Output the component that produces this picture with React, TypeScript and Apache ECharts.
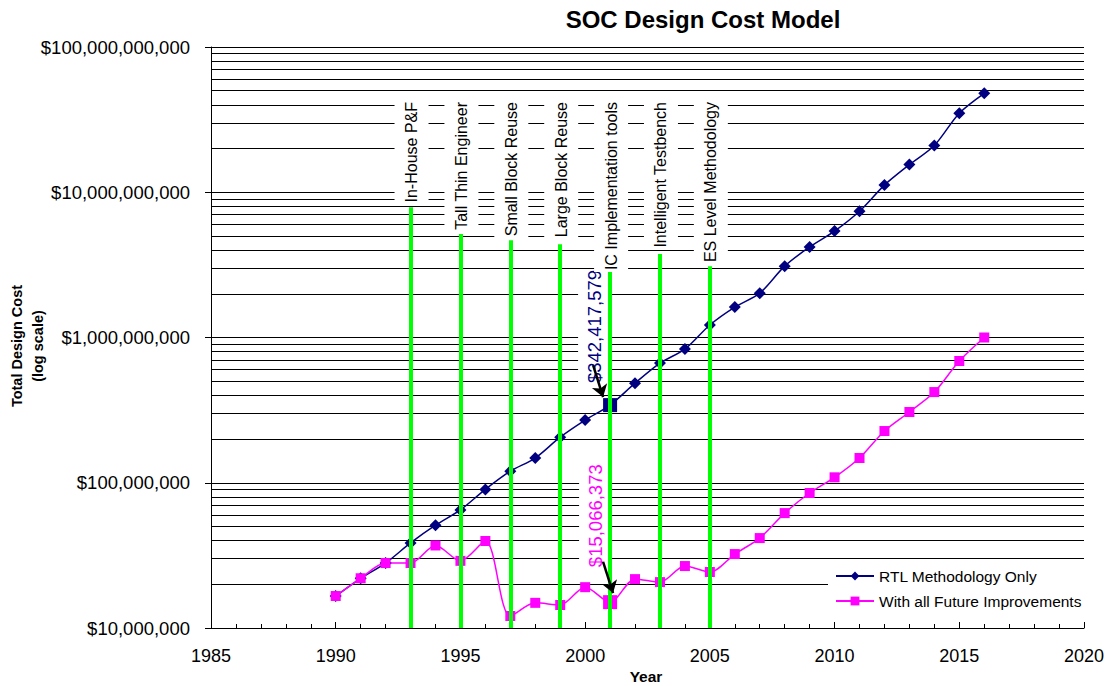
import React, { useEffect, useRef } from "react";
import * as echarts from "echarts";

const FONT = '"Liberation Sans", Arial, Helvetica, sans-serif';

const years = [
  1990, 1991, 1992, 1993, 1994, 1995, 1996, 1997, 1998, 1999, 2000, 2001, 2002,
  2003, 2004, 2005, 2006, 2007, 2008, 2009, 2010, 2011, 2012, 2013, 2014, 2015, 2016,
];

const rtlCost = [
  16.6e6, 22e6, 28e6, 38.5e6, 51e6, 65e6, 90e6, 120e6, 148e6, 206e6, 270e6, 342417579,
  485e6, 667e6, 832e6, 1.22e9, 1.62e9, 2.02e9, 3.1e9, 4.2e9, 5.4e9, 7.4e9, 11.2e9,
  15.5e9, 21e9, 35e9, 48e9,
];

const futureCost = [
  16.6e6, 22e6, 28e6, 28e6, 37e6, 29e6, 39.7e6, 12.1e6, 14.9e6, 14.4e6, 19.1e6, 15066373,
  21.7e6, 20.7e6, 26.7e6, 24.3e6, 32.3e6, 41.6e6, 61.8e6, 85e6, 109e6, 148e6, 227e6,
  307e6, 421e6, 689e6, 1.0e9,
];

const highlightYear = 2001;

const milestoneYears = [1993, 1995, 1997, 1999, 2001, 2003, 2005];
const milestoneTops = [7.89e9, 5.15e9, 4.68e9, 4.39e9, 2.96e9, 3.75e9, 3.1e9];
const milestoneLabels = [
  "In-House P&F",
  "Tall Thin Engineer",
  "Small Block Reuse",
  "Large Block Reuse",
  "IC Implementation tools",
  "Intelligent Testbench",
  "ES Level Methodology",
];

const gridDecades = [1e7, 1e8, 1e9, 1e10];
const gridMultipliers = [2, 3, 4, 5, 6, 7, 8, 9];

const rtlArrow = [
  [2000.32, 6.46e8],
  [2000.72, 3.89e8],
];
const futureArrow = [
  [2000.72, 2.85e7],
  [2001.12, 1.74e7],
];

const seriesNames = ["RTL Methodology Only", "With all Future Improvements"];
const rtlColor = "#000080";
const futureColor = "#FF00FF";

function fmtMoney(v: number) {
  return "$" + Math.round(v).toLocaleString("en-US");
}

export default function App() {
  const ref = useRef<HTMLDivElement>(null);

  useEffect(() => {
    document.body.style.margin = "0";
    const chart = echarts.init(ref.current!, null, { renderer: "svg" });

    const minorGrid: number[] = [];
    gridDecades.forEach((d) => gridMultipliers.forEach((m) => minorGrid.push(d * m)));

    const mkData = (vals: number[], hlColor: string) =>
      years.map((y, i) =>
        y === highlightYear
          ? { value: [y, vals[i]], symbol: "rect", symbolSize: 14, itemStyle: { color: hlColor } }
          : [y, vals[i]]
      );

    const option: any = {
      animation: false,
      textStyle: { fontFamily: FONT },
      grid: { left: 211, right: 26, top: 47, bottom: 58, containLabel: false },
      legend: {
        data: seriesNames,
        orient: "vertical",
        left: 828,
        top: 562,
        padding: [6, 14, 6, 7],
        itemGap: 9,
        itemWidth: 38,
        itemHeight: 11,
        backgroundColor: "#ffffff",
        textStyle: { fontSize: 15.5, color: "#000", fontFamily: FONT },
      },
      xAxis: {
        type: "value",
        min: 1985,
        max: 2020,
        interval: 5,
        axisLine: { show: true, lineStyle: { color: "#000", width: 1 } },
        axisTick: { show: true, inside: true, length: 6, lineStyle: { color: "#000" } },
        minorTick: { show: true, splitNumber: 5, length: 4, lineStyle: { color: "#000" } },
        splitLine: { show: false },
        axisLabel: {
          fontSize: 18,
          color: "#000",
          margin: 19,
          fontFamily: FONT,
          formatter: (v: number) => String(Math.round(v)),
        },
      },
      yAxis: {
        type: "log",
        logBase: 10,
        min: 1e7,
        max: 1e11,
        axisLine: { show: true, lineStyle: { color: "#000", width: 1 } },
        axisTick: { show: true, length: 6, lineStyle: { color: "#000" } },
        splitLine: { show: true, lineStyle: { color: "#000", width: 1 } },
        axisLabel: {
          fontSize: 18.5,
          color: "#000",
          margin: 21,
          fontFamily: FONT,
          formatter: (v: number) => fmtMoney(v),
        },
      },
      series: [
        {
          name: "gridlines",
          type: "line",
          data: [],
          silent: true,
          z: 1,
          markLine: {
            silent: true,
            z: 1,
            symbol: ["none", "none"],
            label: { show: false },
            lineStyle: { color: "#000", width: 1, type: "solid" },
            emphasis: { disabled: true },
            data: minorGrid.map((v) => ({ yAxis: v })),
          },
        },
        {
          name: seriesNames[0],
          type: "line",
          smooth: 0.3,
          symbol: "diamond",
          symbolSize: 12,
          z: 2,
          data: mkData(rtlCost, rtlColor),
          lineStyle: { color: rtlColor, width: 1.5 },
          itemStyle: { color: rtlColor },
        },
        {
          name: seriesNames[1],
          type: "line",
          smooth: 0.3,
          symbol: "rect",
          symbolSize: 10,
          z: 2,
          data: mkData(futureCost, futureColor),
          lineStyle: { color: futureColor, width: 1.5 },
          itemStyle: { color: futureColor },
        },
        {
          name: "milestones",
          type: "line",
          data: [],
          silent: true,
          z: 3,
          markLine: {
            silent: true,
            z: 3,
            symbol: ["none", "none"],
            label: { show: false },
            lineStyle: { color: "#00FF00", width: 4, type: "solid" },
            emphasis: { disabled: true },
            data: milestoneYears.map((y, i) => [
              { coord: [y, 1e7] },
              { coord: [y, milestoneTops[i]] },
            ]),
          },
        },
        {
          name: "arrows",
          type: "line",
          data: [],
          silent: true,
          z: 4,
          markLine: {
            silent: true,
            z: 4,
            symbol: ["none", "arrow"],
            symbolSize: 12,
            label: { show: false },
            lineStyle: { color: "#000", width: 2.5, type: "solid" },
            emphasis: { disabled: true },
            data: [rtlArrow, futureArrow].map((a) => [{ coord: a[0] }, { coord: a[1] }]),
          },
        },
      ],
    };

    chart.setOption(option);

    const px = (x: number, y: number) =>
      chart.convertToPixel({ gridIndex: 0 }, [x, y]) as number[];

    const topPx = px(1985, 1e11)[1];
    const graphics: any[] = [];

    const centered = {
      textAlign: "center",
      align: "center",
      textVerticalAlign: "middle",
      verticalAlign: "middle",
    };

    graphics.push({
      type: "text",
      x: 703,
      y: 19,
      z: 10,
      style: {
        text: "SOC Design Cost Model",
        fontSize: 24,
        fontWeight: "bold",
        fontFamily: FONT,
        fill: "#000",
        ...centered,
      },
    });

    graphics.push({
      type: "text",
      x: 17,
      y: 346,
      rotation: Math.PI / 2,
      z: 10,
      style: {
        text: "Total Design Cost",
        fontSize: 14.5,
        fontWeight: "bold",
        fontFamily: FONT,
        fill: "#000",
        ...centered,
      },
    });
    graphics.push({
      type: "text",
      x: 38,
      y: 346,
      rotation: Math.PI / 2,
      z: 10,
      style: {
        text: "(log scale)",
        fontSize: 14.5,
        fontWeight: "bold",
        fontFamily: FONT,
        fill: "#000",
        ...centered,
      },
    });
    graphics.push({
      type: "text",
      x: 646,
      y: 676,
      z: 10,
      style: {
        text: "Year",
        fontSize: 15.5,
        fontWeight: "bold",
        fontFamily: FONT,
        fill: "#000",
        ...centered,
      },
    });

    milestoneYears.forEach((y, i) => {
      const p = px(y, 1e7);
      graphics.push({
        type: "text",
        x: p[0] + 1,
        y: topPx + 52,
        rotation: Math.PI / 2,
        z: 6,
        style: {
          text: milestoneLabels[i],
          fontSize: 16,
          fontFamily: FONT,
          fill: "#000",
          textAlign: "right",
          align: "right",
          textVerticalAlign: "middle",
          verticalAlign: "middle",
          backgroundColor: "#ffffff",
          padding: [9, 3, 9, 2],
        },
      });
    });

    const idx = years.indexOf(highlightYear);
    const annots = [
      { value: rtlCost[idx], color: rtlColor, dx: -16, dy: -20 },
      { value: futureCost[idx], color: futureColor, dx: -15, dy: -33 },
    ];
    annots.forEach((a) => {
      const p = px(highlightYear, a.value);
      graphics.push({
        type: "text",
        x: p[0] + a.dx,
        y: p[1] + a.dy,
        rotation: Math.PI / 2,
        z: 2,
        style: {
          text: fmtMoney(a.value),
          fontSize: 18.5,
          fontFamily: FONT,
          fill: a.color,
          textAlign: "left",
          align: "left",
          textVerticalAlign: "middle",
          verticalAlign: "middle",
          backgroundColor: "#ffffff",
          padding: [8, 0, 5, 2],
        },
      });
    });

    chart.setOption({ graphic: graphics });

    return () => chart.dispose();
  }, []);

  return <div ref={ref} style={{ width: 1110, height: 686 }} />;
}
